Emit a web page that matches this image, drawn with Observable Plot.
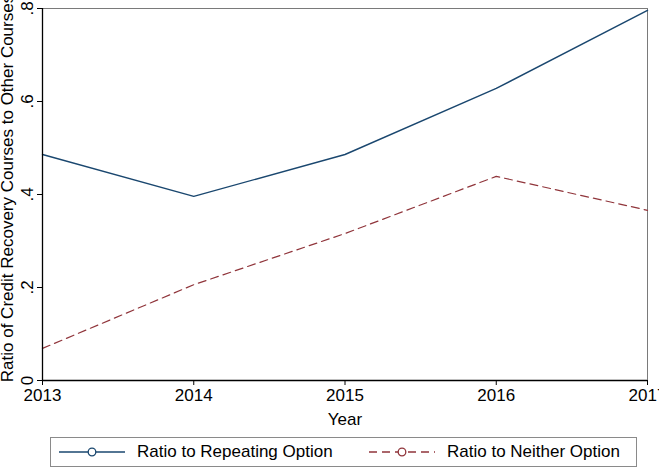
<!DOCTYPE html>
<html>
<head>
<meta charset="utf-8">
<script src="https://cdn.jsdelivr.net/npm/d3@7"></script>
<script src="https://cdn.jsdelivr.net/npm/@observablehq/plot@0.6"></script>
<style>
  html, body { margin: 0; padding: 0; background: #fff; }
  body { width: 659px; height: 469px; position: relative; overflow: hidden; font-family: "Liberation Sans", Arial, Helvetica, sans-serif; }
  #chart { position: absolute; left: 0; top: 0; }
  #legend { position: absolute; left: 50px; top: 437px; width: 587px; height: 30px; border: 1px solid #8a8a8a; box-sizing: border-box; font-size: 17px; color: #000; }
  .item { display: flex; align-items: center; position: absolute; top: 0; height: 28px; }
  .item svg { display: block; }
  .item span { margin-left: 11px; white-space: nowrap; }
</style>
</head>
<body>
<div id="chart"></div>
<div id="legend"></div>
<script>
const years = [2013, 2014, 2015, 2016, 2017];
const repeating = [0.486, 0.396, 0.486, 0.628, 0.796];
const neither = [0.069, 0.206, 0.316, 0.439, 0.366];
const yTicks = [0, 0.2, 0.4, 0.6, 0.8];
const yTickLabels = ["0", ".2", ".4", ".6", ".8"];
const seriesNames = ["Ratio to Repeating Option", "Ratio to Neither Option"];
const seriesColors = ["#1a476f", "#90353b"];
const seriesDash = [null, "8,5"];
const xTitle = "Year";
const yTitle = "Ratio of Credit Recovery Courses to Other Courses";

const repData = years.map((y, i) => ({year: y, value: repeating[i]}));
const neiData = years.map((y, i) => ({year: y, value: neither[i]}));

const plot = Plot.plot({
  width: 659,
  height: 430,
  marginTop: 8,
  marginLeft: 42,
  marginRight: 12,
  marginBottom: 50,
  style: {fontFamily: "'Liberation Sans', Arial, Helvetica, sans-serif", fontSize: "17px", color: "#000", background: "#fff", overflow: "visible"},
  x: {domain: [2013, 2017]},
  y: {domain: [0, 0.8]},
  marks: [
    Plot.ruleY([0.8], {stroke: "#7a7a7a", strokeWidth: 1}),
    Plot.ruleX([2017], {stroke: "#7a7a7a", strokeWidth: 1}),
    Plot.line(repData, {x: "year", y: "value", stroke: seriesColors[0], strokeWidth: 1.4}),
    Plot.line(neiData, {x: "year", y: "value", stroke: seriesColors[1], strokeWidth: 1.2, strokeDasharray: seriesDash[1]}),
    Plot.axisX({ticks: years, tickFormat: d => String(d), tickSize: 5, tickPadding: 3, fontSize: 17, label: null, stroke: "#000"}),
    Plot.text([xTitle], {frameAnchor: "bottom", dy: 44, fontSize: 17, fill: "#000"}),
    Plot.axisY({ticks: yTicks, tickSize: 5, tickFormat: () => "", label: null, stroke: "#000"}),
    Plot.text(yTicks, {y: d => d, frameAnchor: "left", textAnchor: "middle", text: (d, i) => yTickLabels[i], rotate: -90, dx: -15, fontSize: 17, fill: "#000"}),
    Plot.text([yTitle], {frameAnchor: "left", textAnchor: "middle", rotate: -90, dx: -35, dy: -6, fontSize: 17, fill: "#000"}),
    Plot.ruleX([2013], {stroke: "#000", strokeWidth: 1.3}),
    Plot.ruleY([0], {stroke: "#000", strokeWidth: 1.3})
  ]
});
document.getElementById("chart").appendChild(plot);

// legend
const legend = document.getElementById("legend");
const lefts = [7, 317];
seriesNames.forEach((name, i) => {
  const item = document.createElement("div");
  item.className = "item";
  item.style.left = lefts[i] + "px";
  const dash = seriesDash[i] ? `stroke-dasharray="${seriesDash[i]}"` : "";
  item.innerHTML = `<svg width="68" height="12" viewBox="0 0 68 12">
      <line x1="1" y1="6" x2="67" y2="6" stroke="${seriesColors[i]}" stroke-width="1.3" ${dash}/>
      <circle cx="34" cy="6" r="3.8" fill="#fff" stroke="${seriesColors[i]}" stroke-width="1.3"/>
    </svg><span>${name}</span>`;
  legend.appendChild(item);
});
</script>
</body>
</html>
